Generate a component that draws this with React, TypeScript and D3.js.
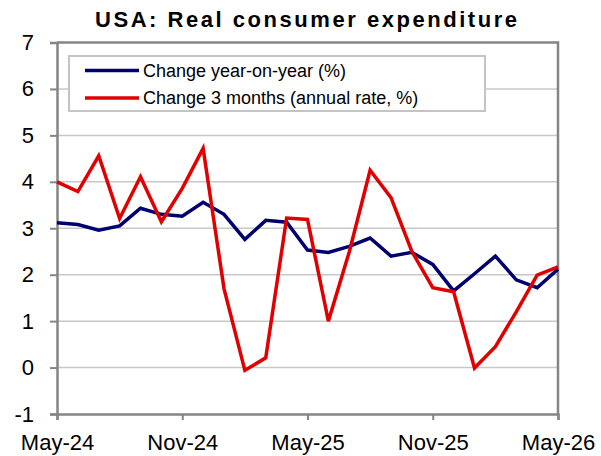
import React, { useEffect, useRef } from 'react';
import * as d3 from 'd3';

const months = [
  'May-24', 'Jun-24', 'Jul-24', 'Aug-24', 'Sep-24', 'Oct-24', 'Nov-24', 'Dec-24',
  'Jan-25', 'Feb-25', 'Mar-25', 'Apr-25', 'May-25', 'Jun-25', 'Jul-25', 'Aug-25',
  'Sep-25', 'Oct-25', 'Nov-25', 'Dec-25', 'Jan-26', 'Feb-26', 'Mar-26', 'Apr-26', 'May-26',
];
const yoy = [
  3.12, 3.08, 2.96, 3.05, 3.43, 3.3, 3.26, 3.56, 3.3, 2.76, 3.17, 3.13, 2.53,
  2.48, 2.61, 2.79, 2.4, 2.48, 2.22, 1.65, 2.02, 2.4, 1.89, 1.72, 2.12,
];
const threeMonth = [
  4.0, 3.79, 4.56, 3.21, 4.11, 3.14, 3.86, 4.72, 1.7, -0.06, 0.21, 3.22, 3.19,
  1.0, 2.49, 4.25, 3.66, 2.5, 1.72, 1.63, -0.01, 0.45, 1.2, 1.99, 2.17,
];
const xTickLabels = ['May-24', 'Nov-24', 'May-25', 'Nov-25', 'May-26'];
const yTicks = [-1, 0, 1, 2, 3, 4, 5, 6, 7];
const seriesNames = ['Change year-on-year (%)', 'Change 3 months (annual rate, %)'];
const seriesColors = ['#000070', '#e00000'];

function App() {
  const ref = useRef<SVGSVGElement>(null);

  useEffect(() => {
    const svg = d3.select(ref.current);
    svg.selectAll('*').remove();

    const font = 'Arial, "Liberation Sans", sans-serif';
    const left = 57, right = 558, top = 42.5, bottom = 414;
    const axisColor = '#858585';

    const x = d3.scalePoint<string>().domain(months).range([left, right]).padding(0);
    const y = d3.scaleLinear().domain([-1, 7]).range([bottom, top]);

    // gridlines
    svg.append('g')
      .selectAll('line')
      .data(yTicks.filter(t => t > -1 && t < 7))
      .join('line')
      .attr('x1', left).attr('x2', right)
      .attr('y1', d => y(d)).attr('y2', d => y(d))
      .attr('stroke', '#c8c8c8')
      .attr('stroke-width', 1.5);

    // top & right border
    svg.append('path')
      .attr('d', `M${left},${top}H${right}V${bottom}`)
      .attr('fill', 'none')
      .attr('stroke', axisColor)
      .attr('stroke-width', 2.5);

    const yAxis = svg.append('g')
      .attr('transform', `translate(${left},0)`)
      .call(d3.axisLeft(y).tickValues(yTicks).tickSize(7).tickPadding(16).tickFormat(d => String(d)));
    yAxis.select('.domain').attr('stroke', axisColor).attr('stroke-width', 2.5);
    yAxis.selectAll('.tick line').attr('stroke', axisColor).attr('stroke-width', 2);
    yAxis.selectAll('.tick text')
      .attr('font-size', 22).attr('font-family', font).attr('fill', '#000');

    const xAxis = svg.append('g')
      .attr('transform', `translate(0,${bottom})`)
      .call(d3.axisBottom(x).tickValues(xTickLabels).tickSize(6).tickPadding(14));
    xAxis.select('.domain').attr('stroke', axisColor).attr('stroke-width', 2.5);
    xAxis.selectAll('.tick line').attr('stroke', axisColor).attr('stroke-width', 2);
    xAxis.selectAll('.tick text')
      .attr('font-size', 22).attr('font-family', font).attr('fill', '#000');

    const line = d3.line<number>()
      .x((d, i) => x(months[i]) as number)
      .y(d => y(d));

    [yoy, threeMonth].forEach((series, i) => {
      svg.append('path')
        .datum(series)
        .attr('fill', 'none')
        .attr('stroke', seriesColors[i])
        .attr('stroke-width', 3.5)
        .attr('d', line);
    });

    // legend
    const lg = svg.append('g');
    lg.append('rect')
      .attr('x', 69).attr('y', 56)
      .attr('width', 416).attr('height', 55)
      .attr('fill', '#fff')
      .attr('stroke', '#c4c4c4')
      .attr('stroke-width', 2);
    seriesNames.forEach((name, i) => {
      const ly = 70.5 + i * 27.5;
      lg.append('line')
        .attr('x1', 85).attr('x2', 139)
        .attr('y1', ly).attr('y2', ly)
        .attr('stroke', seriesColors[i])
        .attr('stroke-width', 3.5);
      lg.append('text')
        .attr('x', 143).attr('y', ly)
        .attr('dy', '0.35em')
        .attr('font-size', 18)
        .attr('font-family', font)
        .text(name);
    });

    svg.append('text')
      .attr('x', 306).attr('y', 27)
      .attr('text-anchor', 'middle')
      .attr('font-size', 22)
      .attr('font-weight', 'bold')
      .attr('font-family', font)
      .attr('textLength', 422)
      .attr('lengthAdjust', 'spacing')
      .text('USA: Real consumer expenditure');
  }, []);

  return (
    <svg
      ref={ref}
      width={601}
      height={456}
      style={{ position: 'absolute', left: 0, top: 0, background: '#fff' }}
    />
  );
}

export default App;
